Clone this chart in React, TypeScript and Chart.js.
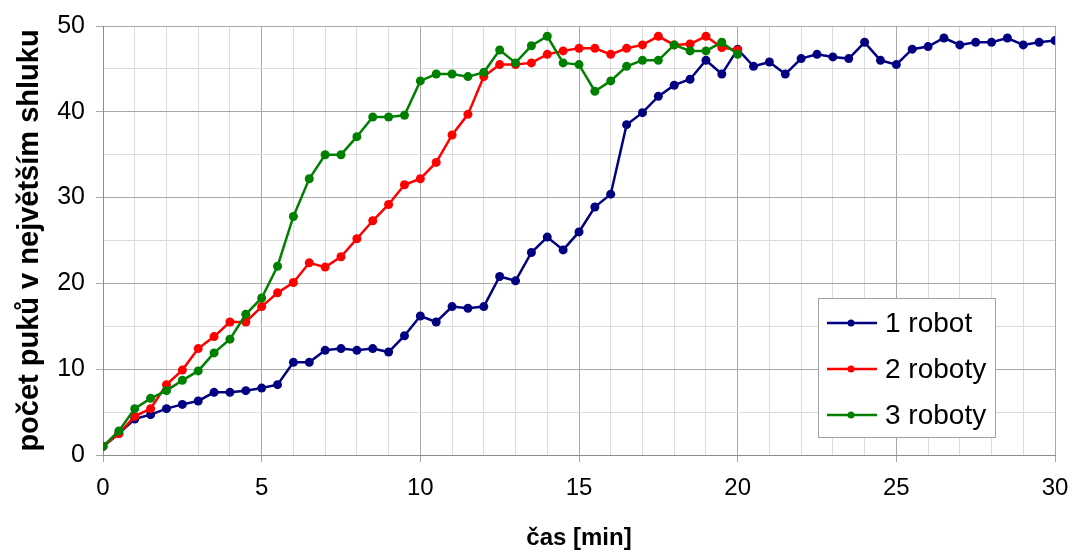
import React, { useEffect, useRef } from 'react';
import { Chart, registerables } from 'chart.js';

Chart.register(...registerables);

// time [min]
const times = [
  0, 0.5, 1, 1.5, 2, 2.5, 3, 3.5, 4, 4.5, 5, 5.5, 6, 6.5, 7, 7.5, 8, 8.5, 9, 9.5,
  10, 10.5, 11, 11.5, 12, 12.5, 13, 13.5, 14, 14.5, 15, 15.5, 16, 16.5, 17, 17.5, 18, 18.5, 19, 19.5,
  20, 20.5, 21, 21.5, 22, 22.5, 23, 23.5, 24, 24.5, 25, 25.5, 26, 26.5, 27, 27.5, 28, 28.5, 29, 29.5, 30,
];

const oneRobot = [
  1.0, 2.5, 4.2, 4.7, 5.4, 5.9, 6.3, 7.3, 7.3, 7.5, 7.8, 8.2, 10.8, 10.8, 12.2, 12.4, 12.2, 12.4, 12.0, 13.9,
  16.2, 15.5, 17.3, 17.1, 17.3, 20.8, 20.3, 23.6, 25.4, 23.9, 26.0, 28.9, 30.4, 38.5, 39.9, 41.8, 43.1, 43.8, 46.0, 44.4,
  47.3, 45.3, 45.8, 44.4, 46.2, 46.7, 46.4, 46.2, 48.1, 46.0, 45.5, 47.3, 47.6, 48.6, 47.8, 48.1, 48.1, 48.6, 47.8, 48.1, 48.3,
];

const twoRobots = [
  1.0, 2.5, 4.5, 5.4, 8.2, 9.9, 12.4, 13.8, 15.5, 15.5, 17.3, 18.9, 20.1, 22.4, 21.9, 23.1, 25.2, 27.3, 29.2, 31.5,
  32.2, 34.1, 37.3, 39.7, 44.1, 45.5, 45.5, 45.7, 46.7, 47.1, 47.4, 47.4, 46.7, 47.4, 47.8, 48.8, 47.8, 47.9, 48.8, 47.5,
  47.2,
];

const threeRobots = [
  1.0, 2.8, 5.4, 6.6, 7.5, 8.7, 9.8, 11.9, 13.5, 16.4, 18.3, 22.0, 27.8, 32.2, 35.0, 35.0, 37.1, 39.4, 39.4, 39.6,
  43.6, 44.4, 44.4, 44.1, 44.6, 47.2, 45.7, 47.7, 48.8, 45.7, 45.5, 42.4, 43.6, 45.3, 46.0, 46.0, 47.8, 47.1, 47.1, 48.1,
  46.7,
];

const seriesLabels = ['1 robot', '2 roboty', '3 roboty'];
const seriesColors = ['#000080', '#ff0000', '#008000'];
const seriesValues = [oneRobot, twoRobots, threeRobots];

const xTitle = 'čas [min]';
const yTitle = 'počet puků v největším shluku';

const FONT = "'Liberation Sans', Arial, sans-serif";

const boxLegend = {
  id: 'boxLegend',
  afterDraw(chart: any) {
    const { ctx, chartArea } = chart;
    const w = 177;
    const h = 139;
    const x0 = chartArea.right - 237;
    const y0 = chartArea.bottom - 157;
    ctx.save();
    ctx.fillStyle = '#ffffff';
    ctx.fillRect(x0, y0, w, h);
    ctx.strokeStyle = '#a0a0a0';
    ctx.lineWidth = 1;
    ctx.strokeRect(x0 + 0.5, y0 + 0.5, w, h);
    chart.data.datasets.forEach((ds: any, i: number) => {
      const cy = y0 + 25 + i * 46;
      ctx.strokeStyle = ds.borderColor;
      ctx.lineWidth = 2.5;
      ctx.beginPath();
      ctx.moveTo(x0 + 9, cy);
      ctx.lineTo(x0 + 59, cy);
      ctx.stroke();
      ctx.fillStyle = ds.borderColor;
      ctx.beginPath();
      ctx.arc(x0 + 33, cy, 3.5, 0, Math.PI * 2);
      ctx.fill();
      ctx.fillStyle = '#000000';
      ctx.font = `28px ${FONT}`;
      ctx.textBaseline = 'middle';
      ctx.textAlign = 'left';
      ctx.fillText(ds.label, x0 + 67, cy + 1);
    });
    ctx.restore();
  },
};

export default function App() {
  const canvasRef = useRef<HTMLCanvasElement | null>(null);

  useEffect(() => {
    if (!canvasRef.current) return;
    const datasets = seriesValues.map((vals, i) => ({
      label: seriesLabels[i],
      data: vals.map((v, j) => ({ x: times[j], y: v })),
      borderColor: seriesColors[i],
      backgroundColor: seriesColors[i],
      pointBackgroundColor: seriesColors[i],
      pointBorderColor: seriesColors[i],
      pointRadius: 4.5,
      pointBorderWidth: 0,
      borderWidth: 2.5,
      tension: 0,
      order: 2 - i,
    }));

    const chart = new Chart(canvasRef.current, {
      type: 'line',
      data: { datasets },
      plugins: [boxLegend],
      options: {
        animation: false,
        responsive: false,
        devicePixelRatio: 1,
        layout: { padding: { top: 26, right: 17, left: 0, bottom: 0 } },
        plugins: {
          legend: { display: false },
          tooltip: { enabled: false },
        },
        scales: {
          x: {
            type: 'linear',
            min: 0,
            max: 30,
            afterFit: (s: any) => {
              s.height = 99;
              s.paddingRight = 0;
              s.paddingLeft = 0;
            },
            border: { color: '#8c8c8c', width: 1 },
            grid: {
              color: (c: any) => (c.tick && c.tick.value % 5 === 0 ? '#a8a8a8' : '#dcdcdc'),
              tickColor: (c: any) => (c.tick && c.tick.value % 5 === 0 ? '#a8a8a8' : 'rgba(0,0,0,0)'),
              tickLength: 7,
              lineWidth: 1,
            },
            ticks: {
              stepSize: 1,
              autoSkip: false,
              maxRotation: 0,
              padding: 12,
              color: '#000000',
              font: { family: FONT, size: 24 },
              callback: (v: any) => (Number(v) % 5 === 0 ? String(v) : ''),
            },
            title: {
              display: true,
              text: xTitle,
              color: '#000000',
              font: { family: FONT, size: 24, weight: 'bold' },
              padding: { top: 0, bottom: 1 },
            },
          },
          y: {
            type: 'linear',
            min: 0,
            max: 50,
            afterFit: (s: any) => {
              s.width = 103;
              s.paddingTop = 0;
              s.paddingBottom = 0;
            },
            border: { color: '#8c8c8c', width: 1 },
            grid: {
              color: (c: any) => (c.tick && c.tick.value % 10 === 0 ? '#a8a8a8' : '#dcdcdc'),
              tickColor: (c: any) => (c.tick && c.tick.value % 10 === 0 ? '#a8a8a8' : 'rgba(0,0,0,0)'),
              tickLength: 7,
              lineWidth: 1,
            },
            ticks: {
              stepSize: 5,
              autoSkip: false,
              padding: 11,
              color: '#000000',
              font: { family: FONT, size: 25 },
              callback: (v: any) => (Number(v) % 10 === 0 ? String(v) : ''),
            },
            title: {
              display: true,
              text: yTitle,
              color: '#000000',
              font: { family: FONT, size: 29, weight: 'bold' },
              padding: { top: 13, bottom: 0 },
            },
          },
        },
      },
    });
    return () => chart.destroy();
  }, []);

  return (
    <div style={{ position: 'absolute', left: 0, top: 0, width: 1072, height: 554, background: '#ffffff' }}>
      <canvas ref={canvasRef} width={1072} height={554} style={{ display: 'block' }} />
    </div>
  );
}
